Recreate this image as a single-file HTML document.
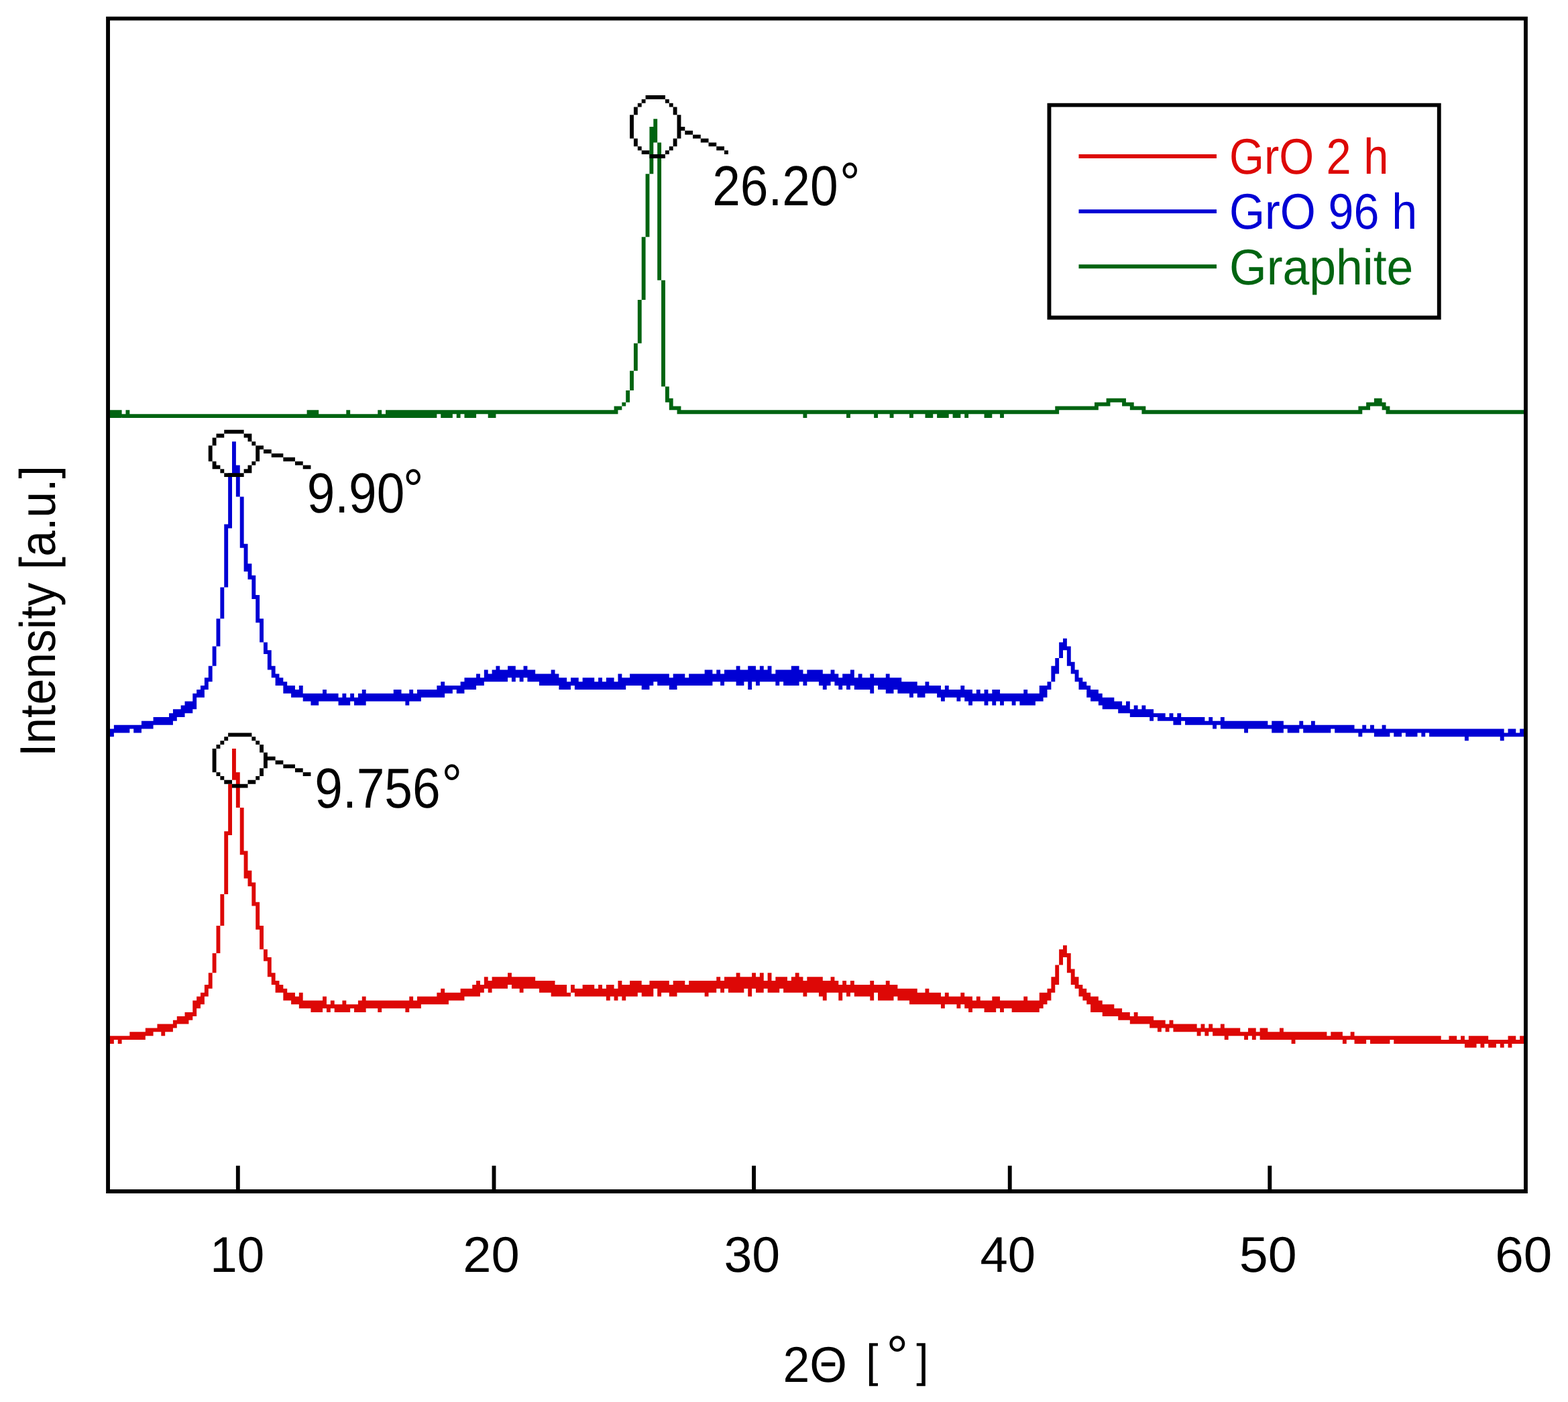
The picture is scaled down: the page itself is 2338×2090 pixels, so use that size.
<!DOCTYPE html>
<html lang="en">
<head>
<meta charset="utf-8">
<title>XRD patterns: GrO 2 h, GrO 96 h, Graphite</title>
<style>
html,body{margin:0;padding:0;background:#fff;}
body{width:2338px;height:2090px;overflow:hidden;}
svg{display:block;}
</style>
</head>
<body>
<svg width="2338" height="2090" viewBox="0 0 2338 2090" role="img" aria-label="XRD patterns of GrO 2 h, GrO 96 h and Graphite">
<g shape-rendering="geometricPrecision">
<path fill="#006411" d="M974.31 177.21H980.18V212.41H974.31ZM968.44 188.94H974.31V259.35H968.44ZM980.18 212.41H986.06V417.76H980.18ZM962.57 259.35H968.44V353.22H962.57ZM956.7 353.22H962.57V447.09H956.7ZM986.06 417.76H991.93V576.17H986.06ZM950.82 447.09H956.7V511.63H950.82ZM944.95 511.63H950.82V552.7H944.95ZM939.08 552.7H944.95V582.03H939.08ZM991.93 576.17H997.8V599.63H991.93ZM933.21 582.03H939.08V599.63H933.21ZM1655.46 593.77H1673.08V599.63H1655.46ZM1649.59 593.77H1655.46V605.5H1649.59ZM1673.08 593.77H1678.95V605.5H1673.08ZM2048.89 593.77H2060.63V605.5H2048.89ZM997.8 593.77H1003.67V611.37H997.8ZM927.34 599.63H933.21V605.5H927.34ZM1637.85 599.63H1649.59V605.5H1637.85ZM1678.95 599.63H1684.82V605.5H1678.95ZM2043.02 599.63H2048.89V605.5H2043.02ZM1631.98 599.63H1637.85V611.37H1631.98ZM1684.82 599.63H1690.7V611.37H1684.82ZM2037.14 599.63H2043.02V611.37H2037.14ZM2060.63 599.63H2066.5V611.37H2060.63ZM921.46 605.5H927.34V611.37H921.46ZM1003.67 605.5H1009.54V611.37H1003.67ZM1579.13 605.5H1631.98V611.37H1579.13ZM1690.7 605.5H1702.44V611.37H1690.7ZM2031.27 605.5H2037.14V611.37H2031.27ZM915.59 605.5H921.46V617.24H915.59ZM1009.54 605.5H1015.42V617.24H1009.54ZM1573.26 605.5H1579.13V617.24H1573.26ZM1702.44 605.5H1708.31V617.24H1702.44ZM2025.4 605.5H2031.27V617.24H2025.4ZM2066.5 605.5H2072.38V617.24H2066.5ZM651.35 611.37H657.22V617.24H651.35ZM674.84 611.37H680.71V617.24H674.84ZM686.58 611.37H692.46V617.24H686.58ZM710.07 611.37H727.69V617.24H710.07ZM739.43 611.37H915.59V617.24H739.43ZM1015.42 611.37H1197.45V617.24H1015.42ZM1203.32 611.37H1262.04V617.24H1203.32ZM1267.91 611.37H1303.14V617.24H1267.91ZM1309.02 611.37H1326.63V617.24H1309.02ZM1332.5 611.37H1355.99V617.24H1332.5ZM1361.86 611.37H1379.48V617.24H1361.86ZM1391.22 611.37H1397.1V617.24H1391.22ZM1414.71 611.37H1420.58V617.24H1414.71ZM1432.33 611.37H1438.2V617.24H1432.33ZM1444.07 611.37H1467.56V617.24H1444.07ZM1479.3 611.37H1491.05V617.24H1479.3ZM1496.92 611.37H1573.26V617.24H1496.92ZM1708.31 611.37H2025.4V617.24H1708.31ZM2072.38 611.37H2272.02V617.24H2072.38ZM163.98 611.37H181.59V623.1H163.98ZM187.46 611.37H193.34V623.1H187.46ZM457.58 611.37H475.19V623.1H457.58ZM516.3 611.37H522.17V623.1H516.3ZM563.27 611.37H569.14V623.1H563.27ZM575.02 611.37H651.35V623.1H575.02ZM657.22 611.37H674.84V623.1H657.22ZM680.71 611.37H686.58V623.1H680.71ZM692.46 611.37H710.07V623.1H692.46ZM727.69 611.37H739.43V623.1H727.69ZM1197.45 611.37H1203.32V623.1H1197.45ZM1262.04 611.37H1267.91V623.1H1262.04ZM1303.14 611.37H1309.02V623.1H1303.14ZM1326.63 611.37H1332.5V623.1H1326.63ZM1355.99 611.37H1361.86V623.1H1355.99ZM1379.48 611.37H1391.22V623.1H1379.48ZM1397.1 611.37H1414.71V623.1H1397.1ZM1420.58 611.37H1432.33V623.1H1420.58ZM1438.2 611.37H1444.07V623.1H1438.2ZM1467.56 611.37H1479.3V623.1H1467.56ZM1491.05 611.37H1496.92V623.1H1491.05ZM181.59 617.24H187.46V623.1H181.59ZM193.34 617.24H457.58V623.1H193.34ZM475.19 617.24H516.3V623.1H475.19ZM522.17 617.24H563.27V623.1H522.17ZM569.14 617.24H575.02V623.1H569.14Z"/>
<path fill="#0000D4" d="M346.01 658.3H351.88V711.11H346.01ZM351.88 693.51H357.75V740.44H351.88ZM340.14 705.24H346.01V787.38H340.14ZM357.75 740.44H363.62V816.71H357.75ZM334.26 781.51H340.14V875.38H334.26ZM363.62 810.85H369.5V851.92H363.62ZM369.5 840.18H375.37V863.65H369.5ZM375.37 857.78H381.24V892.98H375.37ZM328.39 875.38H334.26V922.32H328.39ZM381.24 887.12H387.11V928.19H381.24ZM387.11 922.32H392.98V957.52H387.11ZM322.52 922.32H328.39V963.39H322.52ZM1585 951.65H1590.87V969.25H1585ZM392.98 957.52H398.86V975.12H392.98ZM1579.13 957.52H1585V980.99H1579.13ZM316.65 963.39H322.52V992.72H316.65ZM1590.87 963.39H1596.74V992.72H1590.87ZM398.86 969.25H404.73V998.59H398.86ZM1573.26 980.99H1579.13V1004.46H1573.26ZM1596.74 986.86H1602.62V1004.46H1596.74ZM404.73 992.72H410.6V1010.32H404.73ZM757.05 992.72H762.92V1010.32H757.05ZM780.54 992.72H786.41V1010.32H780.54ZM310.78 992.72H316.65V1016.19H310.78ZM739.43 992.72H745.3V1016.19H739.43ZM762.92 992.72H768.79V1016.19H762.92ZM1121.11 992.72H1126.98V1016.19H1121.11ZM1132.86 992.72H1138.73V1016.19H1132.86ZM1144.6 992.72H1150.47V1016.19H1144.6ZM1567.38 992.72H1573.26V1016.19H1567.38ZM1097.62 992.72H1103.5V1022.06H1097.62ZM1179.83 992.72H1191.58V1022.06H1179.83ZM1115.24 992.72H1121.11V1027.92H1115.24ZM768.79 998.59H774.66V1010.32H768.79ZM721.82 998.59H727.69V1016.19H721.82ZM733.56 998.59H739.43V1016.19H733.56ZM745.3 998.59H757.05V1016.19H745.3ZM774.66 998.59H780.54V1016.19H774.66ZM786.41 998.59H798.15V1016.19H786.41ZM1068.26 998.59H1074.14V1016.19H1068.26ZM1080.01 998.59H1097.62V1016.19H1080.01ZM1109.37 998.59H1115.24V1016.19H1109.37ZM1138.73 998.59H1144.6V1016.19H1138.73ZM1162.22 998.59H1168.09V1016.19H1162.22ZM1191.58 998.59H1197.45V1016.19H1191.58ZM1203.32 998.59H1220.94V1016.19H1203.32ZM1238.55 998.59H1244.42V1016.19H1238.55ZM1602.62 998.59H1608.49V1016.19H1602.62ZM821.64 998.59H827.51V1022.06H821.64ZM1050.65 998.59H1062.39V1022.06H1050.65ZM1103.5 998.59H1109.37V1022.06H1103.5ZM1126.98 998.59H1132.86V1022.06H1126.98ZM1156.34 998.59H1162.22V1022.06H1156.34ZM1168.09 998.59H1179.83V1022.06H1168.09ZM1220.94 998.59H1226.81V1022.06H1220.94ZM1267.91 998.59H1273.78V1022.06H1267.91ZM727.69 1004.46H733.56V1016.19H727.69ZM798.15 1004.46H804.02V1016.19H798.15ZM974.31 1004.46H980.18V1016.19H974.31ZM1062.39 1004.46H1068.26V1016.19H1062.39ZM1150.47 1004.46H1156.34V1016.19H1150.47ZM410.6 1004.46H416.47V1022.06H410.6ZM710.07 1004.46H715.94V1022.06H710.07ZM804.02 1004.46H821.64V1022.06H804.02ZM827.51 1004.46H833.38V1022.06H827.51ZM939.08 1004.46H956.7V1022.06H939.08ZM968.44 1004.46H974.31V1022.06H968.44ZM980.18 1004.46H997.8V1022.06H980.18ZM1009.54 1004.46H1021.29V1022.06H1009.54ZM1027.16 1004.46H1050.65V1022.06H1027.16ZM1074.14 1004.46H1080.01V1022.06H1074.14ZM1197.45 1004.46H1203.32V1022.06H1197.45ZM1232.68 1004.46H1238.55V1022.06H1232.68ZM1244.42 1004.46H1250.3V1022.06H1244.42ZM1256.17 1004.46H1262.04V1022.06H1256.17ZM921.46 1004.46H927.34V1027.92H921.46ZM956.7 1004.46H968.44V1027.92H956.7ZM1003.67 1004.46H1009.54V1027.92H1003.67ZM1226.81 1004.46H1232.68V1027.92H1226.81ZM1262.04 1004.46H1267.91V1027.92H1262.04ZM1279.66 1004.46H1285.53V1027.92H1279.66ZM1297.27 1004.46H1303.14V1033.79H1297.27ZM1320.76 1004.46H1326.63V1033.79H1320.76ZM416.47 1010.32H422.34V1022.06H416.47ZM715.94 1010.32H721.82V1022.06H715.94ZM851 1010.32H856.87V1022.06H851ZM933.21 1010.32H939.08V1022.06H933.21ZM1021.29 1010.32H1027.16V1022.06H1021.29ZM1303.14 1010.32H1309.02V1022.06H1303.14ZM304.9 1010.32H310.78V1027.92H304.9ZM692.46 1010.32H710.07V1027.92H692.46ZM833.38 1010.32H845.13V1027.92H833.38ZM856.87 1010.32H862.74V1027.92H856.87ZM868.62 1010.32H886.23V1027.92H868.62ZM892.1 1010.32H897.98V1027.92H892.1ZM903.85 1010.32H915.59V1027.92H903.85ZM927.34 1010.32H933.21V1027.92H927.34ZM997.8 1010.32H1003.67V1027.92H997.8ZM1250.3 1010.32H1256.17V1027.92H1250.3ZM1273.78 1010.32H1279.66V1027.92H1273.78ZM1285.53 1010.32H1297.27V1027.92H1285.53ZM1309.02 1010.32H1320.76V1027.92H1309.02ZM1332.5 1010.32H1338.38V1027.92H1332.5ZM1608.49 1010.32H1614.36V1027.92H1608.49ZM1326.63 1010.32H1332.5V1033.79H1326.63ZM1338.38 1010.32H1344.25V1033.79H1338.38ZM845.13 1016.19H851V1027.92H845.13ZM862.74 1016.19H868.62V1027.92H862.74ZM886.23 1016.19H892.1V1027.92H886.23ZM897.98 1016.19H903.85V1027.92H897.98ZM915.59 1016.19H921.46V1027.92H915.59ZM1561.51 1016.19H1567.38V1027.92H1561.51ZM1614.36 1016.19H1620.23V1027.92H1614.36ZM422.34 1016.19H428.22V1033.79H422.34ZM686.58 1016.19H692.46V1033.79H686.58ZM1344.25 1016.19H1355.99V1033.79H1344.25ZM1361.86 1016.19H1367.74V1033.79H1361.86ZM1379.48 1016.19H1385.35V1033.79H1379.48ZM657.22 1016.19H663.1V1039.66H657.22ZM1355.99 1016.19H1361.86V1039.66H1355.99ZM674.84 1022.06H680.71V1027.92H674.84ZM428.22 1022.06H434.09V1033.79H428.22ZM663.1 1022.06H674.84V1033.79H663.1ZM680.71 1022.06H686.58V1033.79H680.71ZM1385.35 1022.06H1397.1V1033.79H1385.35ZM299.03 1022.06H304.9V1039.66H299.03ZM434.09 1022.06H439.96V1039.66H434.09ZM445.83 1022.06H451.7V1039.66H445.83ZM651.35 1022.06H657.22V1039.66H651.35ZM1367.74 1022.06H1379.48V1039.66H1367.74ZM1397.1 1022.06H1402.97V1039.66H1397.1ZM1408.84 1022.06H1414.71V1039.66H1408.84ZM1432.33 1022.06H1438.2V1039.66H1432.33ZM1555.64 1022.06H1561.51V1039.66H1555.64ZM1620.23 1022.06H1626.1V1039.66H1620.23ZM1549.77 1022.06H1555.64V1045.53H1549.77ZM293.16 1027.92H299.03V1039.66H293.16ZM439.96 1027.92H445.83V1039.66H439.96ZM627.86 1027.92H651.35V1039.66H627.86ZM1414.71 1027.92H1426.46V1039.66H1414.71ZM481.06 1027.92H486.94V1045.53H481.06ZM586.76 1027.92H598.5V1045.53H586.76ZM610.25 1027.92H616.12V1045.53H610.25ZM621.99 1027.92H627.86V1045.53H621.99ZM1402.97 1027.92H1408.84V1045.53H1402.97ZM1426.46 1027.92H1432.33V1045.53H1426.46ZM1438.2 1027.92H1444.07V1045.53H1438.2ZM1455.82 1027.92H1461.69V1045.53H1455.82ZM1485.18 1027.92H1491.05V1045.53H1485.18ZM1626.1 1027.92H1637.85V1045.53H1626.1ZM539.78 1027.92H545.66V1051.39H539.78ZM1444.07 1027.92H1449.94V1051.39H1444.07ZM1467.56 1027.92H1473.43V1051.39H1467.56ZM1479.3 1027.92H1485.18V1051.39H1479.3ZM1526.28 1027.92H1532.15V1051.39H1526.28ZM451.7 1033.79H463.45V1045.53H451.7ZM475.19 1033.79H481.06V1045.53H475.19ZM486.94 1033.79H504.55V1045.53H486.94ZM522.17 1033.79H528.04V1045.53H522.17ZM545.66 1033.79H586.76V1045.53H545.66ZM598.5 1033.79H604.38V1045.53H598.5ZM616.12 1033.79H621.99V1045.53H616.12ZM1449.94 1033.79H1455.82V1045.53H1449.94ZM1461.69 1033.79H1467.56V1045.53H1461.69ZM1473.43 1033.79H1479.3V1045.53H1473.43ZM1496.92 1033.79H1508.66V1045.53H1496.92ZM1514.54 1033.79H1520.41V1045.53H1514.54ZM1543.9 1033.79H1549.77V1045.53H1543.9ZM463.45 1033.79H475.19V1051.39H463.45ZM510.42 1033.79H516.3V1051.39H510.42ZM533.91 1033.79H539.78V1051.39H533.91ZM604.38 1033.79H610.25V1051.39H604.38ZM1491.05 1033.79H1496.92V1051.39H1491.05ZM1508.66 1033.79H1514.54V1051.39H1508.66ZM1520.41 1033.79H1526.28V1051.39H1520.41ZM1532.15 1033.79H1543.9V1051.39H1532.15ZM1637.85 1033.79H1643.72V1051.39H1637.85ZM287.29 1033.79H293.16V1057.26H287.29ZM504.55 1039.66H510.42V1051.39H504.55ZM516.3 1039.66H522.17V1051.39H516.3ZM528.04 1039.66H533.91V1051.39H528.04ZM1643.72 1039.66H1661.34V1057.26H1643.72ZM1661.34 1045.53H1667.21V1057.26H1661.34ZM275.54 1045.53H287.29V1063.13H275.54ZM1667.21 1045.53H1673.08V1063.13H1667.21ZM1678.95 1045.53H1684.82V1063.13H1678.95ZM1673.08 1051.39H1678.95V1063.13H1673.08ZM269.67 1051.39H275.54V1068.99H269.67ZM1690.7 1051.39H1696.57V1068.99H1690.7ZM1702.44 1051.39H1708.31V1068.99H1702.44ZM263.8 1057.26H269.67V1068.99H263.8ZM1684.82 1057.26H1690.7V1068.99H1684.82ZM1696.57 1057.26H1702.44V1068.99H1696.57ZM1708.31 1057.26H1714.18V1068.99H1708.31ZM257.93 1057.26H263.8V1074.86H257.93ZM1714.18 1057.26H1720.06V1074.86H1714.18ZM1720.06 1063.13H1725.93V1068.99H1720.06ZM1725.93 1063.13H1737.67V1074.86H1725.93ZM1743.54 1063.13H1749.42V1074.86H1743.54ZM252.06 1063.13H257.93V1080.73H252.06ZM1755.29 1063.13H1761.16V1080.73H1755.29ZM1737.67 1068.99H1743.54V1074.86H1737.67ZM1761.16 1068.99H1767.03V1074.86H1761.16ZM228.57 1068.99H252.06V1080.73H228.57ZM1749.42 1068.99H1755.29V1080.73H1749.42ZM1767.03 1068.99H1796.39V1080.73H1767.03ZM1802.26 1068.99H1808.14V1080.73H1802.26ZM1819.88 1068.99H1825.75V1086.6H1819.88ZM1796.39 1074.86H1802.26V1080.73H1796.39ZM1814.01 1074.86H1819.88V1080.73H1814.01ZM210.95 1074.86H228.57V1086.6H210.95ZM1808.14 1074.86H1814.01V1086.6H1808.14ZM1825.75 1074.86H1855.11V1086.6H1825.75ZM1860.98 1074.86H1890.34V1086.6H1860.98ZM1937.32 1074.86H1943.19V1086.6H1937.32ZM1855.11 1074.86H1860.98V1092.46H1855.11ZM1896.22 1074.86H1913.83V1092.46H1896.22ZM1954.94 1074.86H1960.81V1092.46H1954.94ZM193.34 1080.73H199.21V1086.6H193.34ZM1890.34 1080.73H1896.22V1086.6H1890.34ZM1913.83 1080.73H1919.7V1086.6H1913.83ZM1984.3 1080.73H1990.17V1086.6H1984.3ZM169.85 1080.73H193.34V1092.46H169.85ZM199.21 1080.73H210.95V1092.46H199.21ZM1919.7 1080.73H1937.32V1092.46H1919.7ZM1943.19 1080.73H1954.94V1092.46H1943.19ZM1960.81 1080.73H1984.3V1092.46H1960.81ZM1990.17 1080.73H2019.53V1092.46H1990.17ZM2031.27 1080.73H2037.14V1092.46H2031.27ZM2043.02 1080.73H2048.89V1092.46H2043.02ZM2060.63 1080.73H2066.5V1098.33H2060.63ZM2019.53 1086.6H2025.4V1092.46H2019.53ZM2037.14 1086.6H2043.02V1092.46H2037.14ZM2072.38 1086.6H2078.25V1092.46H2072.38ZM2089.99 1086.6H2095.86V1092.46H2089.99ZM2113.48 1086.6H2119.35V1092.46H2113.48ZM2125.22 1086.6H2131.1V1092.46H2125.22ZM163.98 1086.6H169.85V1098.33H163.98ZM2025.4 1086.6H2031.27V1098.33H2025.4ZM2048.89 1086.6H2060.63V1098.33H2048.89ZM2066.5 1086.6H2072.38V1098.33H2066.5ZM2078.25 1086.6H2089.99V1098.33H2078.25ZM2095.86 1086.6H2113.48V1098.33H2095.86ZM2119.35 1086.6H2125.22V1098.33H2119.35ZM2131.1 1086.6H2183.94V1098.33H2131.1ZM2189.82 1086.6H2236.79V1098.33H2189.82ZM2248.54 1086.6H2260.28V1098.33H2248.54ZM2266.15 1086.6H2272.02V1098.33H2266.15ZM2183.94 1086.6H2189.82V1104.2H2183.94ZM2236.79 1086.6H2242.66V1104.2H2236.79ZM2242.66 1092.46H2248.54V1098.33H2242.66ZM2260.28 1092.46H2266.15V1098.33H2260.28Z"/>
<path fill="#DD0806" d="M346.01 1115.93H351.88V1162.87H346.01ZM351.88 1151.13H357.75V1203.93H351.88ZM340.14 1168.73H346.01V1245H340.14ZM357.75 1203.93H363.62V1274.34H357.75ZM334.26 1239.14H340.14V1333.01H334.26ZM363.62 1268.47H369.5V1309.54H363.62ZM369.5 1297.81H375.37V1321.28H369.5ZM375.37 1315.41H381.24V1350.61H375.37ZM328.39 1333.01H334.26V1379.94H328.39ZM381.24 1344.74H387.11V1385.81H381.24ZM387.11 1379.94H392.98V1415.15H387.11ZM322.52 1379.94H328.39V1421.01H322.52ZM1585 1409.28H1590.87V1426.88H1585ZM392.98 1415.15H398.86V1432.75H392.98ZM1579.13 1415.15H1585V1438.62H1579.13ZM316.65 1421.01H322.52V1450.35H316.65ZM1590.87 1421.01H1596.74V1450.35H1590.87ZM398.86 1426.88H404.73V1456.22H398.86ZM1573.26 1438.62H1579.13V1467.95H1573.26ZM1596.74 1444.48H1602.62V1467.95H1596.74ZM404.73 1450.35H410.6V1467.95H404.73ZM757.05 1450.35H762.92V1467.95H757.05ZM310.78 1450.35H316.65V1473.82H310.78ZM1121.11 1450.35H1126.98V1473.82H1121.11ZM1097.62 1450.35H1103.5V1479.68H1097.62ZM1132.86 1450.35H1138.73V1479.68H1132.86ZM1144.6 1450.35H1150.47V1479.68H1144.6ZM1185.7 1450.35H1191.58V1479.68H1185.7ZM721.82 1456.22H727.69V1473.82H721.82ZM733.56 1456.22H757.05V1473.82H733.56ZM762.92 1456.22H774.66V1473.82H762.92ZM780.54 1456.22H798.15V1473.82H780.54ZM1068.26 1456.22H1074.14V1473.82H1068.26ZM1080.01 1456.22H1085.88V1473.82H1080.01ZM1109.37 1456.22H1115.24V1473.82H1109.37ZM1162.22 1456.22H1168.09V1473.82H1162.22ZM1602.62 1456.22H1608.49V1473.82H1602.62ZM774.66 1456.22H780.54V1479.68H774.66ZM1085.88 1456.22H1097.62V1479.68H1085.88ZM1103.5 1456.22H1109.37V1479.68H1103.5ZM1126.98 1456.22H1132.86V1479.68H1126.98ZM1156.34 1456.22H1162.22V1479.68H1156.34ZM1168.09 1456.22H1173.96V1479.68H1168.09ZM1179.83 1456.22H1185.7V1479.68H1179.83ZM1191.58 1456.22H1197.45V1479.68H1191.58ZM1203.32 1456.22H1220.94V1479.68H1203.32ZM1238.55 1456.22H1244.42V1479.68H1238.55ZM1567.38 1456.22H1573.26V1479.68H1567.38ZM1115.24 1456.22H1121.11V1485.55H1115.24ZM1220.94 1456.22H1226.81V1485.55H1220.94ZM798.15 1462.08H804.02V1473.82H798.15ZM974.31 1462.08H980.18V1473.82H974.31ZM1138.73 1462.08H1144.6V1473.82H1138.73ZM410.6 1462.08H416.47V1479.68H410.6ZM727.69 1462.08H733.56V1479.68H727.69ZM804.02 1462.08H821.64V1479.68H804.02ZM950.82 1462.08H956.7V1479.68H950.82ZM986.06 1462.08H997.8V1479.68H986.06ZM1009.54 1462.08H1021.29V1479.68H1009.54ZM1027.16 1462.08H1050.65V1479.68H1027.16ZM1056.52 1462.08H1068.26V1479.68H1056.52ZM1074.14 1462.08H1080.01V1479.68H1074.14ZM1150.47 1462.08H1156.34V1479.68H1150.47ZM1173.96 1462.08H1179.83V1479.68H1173.96ZM1232.68 1462.08H1238.55V1479.68H1232.68ZM1244.42 1462.08H1250.3V1479.68H1244.42ZM1256.17 1462.08H1262.04V1479.68H1256.17ZM1267.91 1462.08H1273.78V1479.68H1267.91ZM710.07 1462.08H715.94V1485.55H710.07ZM821.64 1462.08H827.51V1485.55H821.64ZM921.46 1462.08H927.34V1485.55H921.46ZM939.08 1462.08H950.82V1485.55H939.08ZM968.44 1462.08H974.31V1485.55H968.44ZM980.18 1462.08H986.06V1485.55H980.18ZM1003.67 1462.08H1009.54V1485.55H1003.67ZM1050.65 1462.08H1056.52V1485.55H1050.65ZM1197.45 1462.08H1203.32V1485.55H1197.45ZM1226.81 1462.08H1232.68V1491.42H1226.81ZM1297.27 1462.08H1303.14V1491.42H1297.27ZM1320.76 1462.08H1326.63V1491.42H1320.76ZM416.47 1467.95H422.34V1479.68H416.47ZM715.94 1467.95H721.82V1479.68H715.94ZM851 1467.95H856.87V1479.68H851ZM1021.29 1467.95H1027.16V1479.68H1021.29ZM1303.14 1467.95H1309.02V1479.68H1303.14ZM304.9 1467.95H310.78V1485.55H304.9ZM704.2 1467.95H710.07V1485.55H704.2ZM827.51 1467.95H845.13V1485.55H827.51ZM868.62 1467.95H886.23V1485.55H868.62ZM892.1 1467.95H897.98V1485.55H892.1ZM909.72 1467.95H915.59V1485.55H909.72ZM933.21 1467.95H939.08V1485.55H933.21ZM956.7 1467.95H968.44V1485.55H956.7ZM997.8 1467.95H1003.67V1485.55H997.8ZM1262.04 1467.95H1267.91V1485.55H1262.04ZM1273.78 1467.95H1297.27V1485.55H1273.78ZM1332.5 1467.95H1338.38V1485.55H1332.5ZM1608.49 1467.95H1614.36V1485.55H1608.49ZM903.85 1467.95H909.72V1491.42H903.85ZM927.34 1467.95H933.21V1491.42H927.34ZM1250.3 1467.95H1256.17V1491.42H1250.3ZM1309.02 1467.95H1320.76V1491.42H1309.02ZM1326.63 1467.95H1332.5V1491.42H1326.63ZM692.46 1473.82H704.2V1485.55H692.46ZM856.87 1473.82H868.62V1485.55H856.87ZM886.23 1473.82H892.1V1485.55H886.23ZM897.98 1473.82H903.85V1485.55H897.98ZM422.34 1473.82H428.22V1491.42H422.34ZM686.58 1473.82H692.46V1491.42H686.58ZM915.59 1473.82H921.46V1491.42H915.59ZM1338.38 1473.82H1355.99V1491.42H1338.38ZM1561.51 1473.82H1567.38V1491.42H1561.51ZM1614.36 1473.82H1620.23V1491.42H1614.36ZM657.22 1473.82H663.1V1497.29H657.22ZM1355.99 1473.82H1367.74V1497.29H1355.99ZM1379.48 1473.82H1385.35V1497.29H1379.48ZM845.13 1479.68H851V1485.55H845.13ZM428.22 1479.68H434.09V1491.42H428.22ZM668.97 1479.68H686.58V1491.42H668.97ZM299.03 1479.68H304.9V1497.29H299.03ZM434.09 1479.68H439.96V1497.29H434.09ZM651.35 1479.68H657.22V1497.29H651.35ZM663.1 1479.68H668.97V1497.29H663.1ZM1367.74 1479.68H1379.48V1497.29H1367.74ZM1385.35 1479.68H1402.97V1497.29H1385.35ZM1408.84 1479.68H1414.71V1497.29H1408.84ZM1432.33 1479.68H1438.2V1497.29H1432.33ZM1555.64 1479.68H1561.51V1497.29H1555.64ZM1620.23 1479.68H1626.1V1497.29H1620.23ZM445.83 1479.68H451.7V1503.15H445.83ZM1549.77 1479.68H1555.64V1503.15H1549.77ZM439.96 1485.55H445.83V1497.29H439.96ZM627.86 1485.55H651.35V1497.29H627.86ZM1414.71 1485.55H1426.46V1497.29H1414.71ZM293.16 1485.55H299.03V1503.15H293.16ZM481.06 1485.55H486.94V1503.15H481.06ZM610.25 1485.55H616.12V1503.15H610.25ZM621.99 1485.55H627.86V1503.15H621.99ZM1402.97 1485.55H1408.84V1503.15H1402.97ZM1426.46 1485.55H1432.33V1503.15H1426.46ZM1438.2 1485.55H1444.07V1503.15H1438.2ZM1455.82 1485.55H1461.69V1503.15H1455.82ZM1485.18 1485.55H1491.05V1503.15H1485.18ZM539.78 1485.55H545.66V1509.02H539.78ZM1444.07 1485.55H1449.94V1509.02H1444.07ZM1479.3 1485.55H1485.18V1509.02H1479.3ZM1526.28 1485.55H1532.15V1509.02H1526.28ZM1626.1 1485.55H1637.85V1509.02H1626.1ZM451.7 1491.42H463.45V1503.15H451.7ZM492.81 1491.42H498.68V1503.15H492.81ZM545.66 1491.42H563.27V1503.15H545.66ZM569.14 1491.42H604.38V1503.15H569.14ZM616.12 1491.42H621.99V1503.15H616.12ZM1449.94 1491.42H1455.82V1503.15H1449.94ZM1461.69 1491.42H1467.56V1503.15H1461.69ZM1496.92 1491.42H1508.66V1503.15H1496.92ZM463.45 1491.42H481.06V1509.02H463.45ZM510.42 1491.42H516.3V1509.02H510.42ZM533.91 1491.42H539.78V1509.02H533.91ZM563.27 1491.42H569.14V1509.02H563.27ZM604.38 1491.42H610.25V1509.02H604.38ZM1467.56 1491.42H1479.3V1509.02H1467.56ZM1491.05 1491.42H1496.92V1509.02H1491.05ZM1508.66 1491.42H1526.28V1509.02H1508.66ZM1532.15 1491.42H1549.77V1509.02H1532.15ZM1637.85 1491.42H1643.72V1509.02H1637.85ZM287.29 1491.42H293.16V1514.89H287.29ZM522.17 1497.29H528.04V1503.15H522.17ZM486.94 1497.29H492.81V1509.02H486.94ZM498.68 1497.29H510.42V1509.02H498.68ZM516.3 1497.29H522.17V1509.02H516.3ZM528.04 1497.29H533.91V1509.02H528.04ZM1643.72 1497.29H1661.34V1514.89H1643.72ZM1661.34 1503.15H1667.21V1514.89H1661.34ZM1667.21 1503.15H1673.08V1520.75H1667.21ZM281.42 1509.02H287.29V1520.75H281.42ZM1673.08 1509.02H1684.82V1520.75H1673.08ZM275.54 1509.02H281.42V1526.62H275.54ZM1690.7 1509.02H1696.57V1526.62H1690.7ZM263.8 1514.89H275.54V1526.62H263.8ZM1684.82 1514.89H1690.7V1526.62H1684.82ZM1696.57 1514.89H1714.18V1526.62H1696.57ZM1714.18 1514.89H1720.06V1532.49H1714.18ZM257.93 1520.75H263.8V1532.49H257.93ZM1720.06 1520.75H1725.93V1532.49H1720.06ZM1731.8 1520.75H1737.67V1532.49H1731.8ZM1743.54 1520.75H1749.42V1532.49H1743.54ZM1725.93 1520.75H1731.8V1538.35H1725.93ZM234.44 1526.62H240.31V1538.35H234.44ZM246.18 1526.62H257.93V1538.35H246.18ZM1737.67 1526.62H1743.54V1538.35H1737.67ZM1749.42 1526.62H1784.65V1538.35H1749.42ZM1790.52 1526.62H1796.39V1538.35H1790.52ZM1802.26 1526.62H1808.14V1538.35H1802.26ZM240.31 1526.62H246.18V1544.22H240.31ZM1819.88 1526.62H1825.75V1544.22H1819.88ZM228.57 1532.49H234.44V1538.35H228.57ZM216.82 1532.49H228.57V1544.22H216.82ZM1784.65 1532.49H1790.52V1544.22H1784.65ZM1796.39 1532.49H1802.26V1544.22H1796.39ZM1808.14 1532.49H1819.88V1544.22H1808.14ZM1831.62 1532.49H1849.24V1544.22H1831.62ZM1860.98 1532.49H1866.86V1544.22H1860.98ZM1825.75 1532.49H1831.62V1550.09H1825.75ZM1866.86 1532.49H1872.73V1550.09H1866.86ZM1878.6 1532.49H1890.34V1550.09H1878.6ZM1907.96 1532.49H1913.83V1550.09H1907.96ZM1849.24 1538.35H1855.11V1544.22H1849.24ZM1872.73 1538.35H1878.6V1544.22H1872.73ZM193.34 1538.35H216.82V1550.09H193.34ZM1855.11 1538.35H1860.98V1550.09H1855.11ZM1890.34 1538.35H1907.96V1550.09H1890.34ZM1913.83 1538.35H1925.58V1550.09H1913.83ZM1931.45 1538.35H1978.42V1550.09H1931.45ZM1984.3 1538.35H2001.91V1550.09H1984.3ZM2013.66 1538.35H2019.53V1550.09H2013.66ZM1925.58 1538.35H1931.45V1555.96H1925.58ZM169.85 1544.22H175.72V1550.09H169.85ZM181.59 1544.22H193.34V1550.09H181.59ZM1978.42 1544.22H1984.3V1550.09H1978.42ZM2007.78 1544.22H2013.66V1550.09H2007.78ZM2037.14 1544.22H2043.02V1550.09H2037.14ZM2072.38 1544.22H2078.25V1550.09H2072.38ZM163.98 1544.22H169.85V1555.96H163.98ZM175.72 1544.22H181.59V1555.96H175.72ZM2001.91 1544.22H2007.78V1555.96H2001.91ZM2019.53 1544.22H2037.14V1555.96H2019.53ZM2043.02 1544.22H2072.38V1555.96H2043.02ZM2078.25 1544.22H2148.71V1555.96H2078.25ZM2160.46 1544.22H2172.2V1555.96H2160.46ZM2178.07 1544.22H2183.94V1555.96H2178.07ZM2201.56 1544.22H2207.43V1555.96H2201.56ZM2213.3 1544.22H2219.18V1555.96H2213.3ZM2254.41 1544.22H2260.28V1555.96H2254.41ZM2266.15 1544.22H2272.02V1555.96H2266.15ZM2189.82 1544.22H2201.56V1561.82H2189.82ZM2207.43 1544.22H2213.3V1561.82H2207.43ZM2248.54 1544.22H2254.41V1561.82H2248.54ZM2148.71 1550.09H2160.46V1555.96H2148.71ZM2172.2 1550.09H2178.07V1555.96H2172.2ZM2230.92 1550.09H2236.79V1555.96H2230.92ZM2242.66 1550.09H2248.54V1555.96H2242.66ZM2260.28 1550.09H2266.15V1555.96H2260.28ZM2183.94 1550.09H2189.82V1561.82H2183.94ZM2219.18 1550.09H2230.92V1561.82H2219.18ZM2236.79 1550.09H2242.66V1561.82H2236.79Z"/>
<path fill="#DD0806" d="M1608.49 230.01H1814.01V235.88H1608.49Z"/>
<path fill="#0000D4" d="M1608.49 312.15H1814.01V318.02H1608.49Z"/>
<path fill="#006411" d="M1608.49 394.29H1814.01V400.16H1608.49Z"/>
<path fill="#000" d="M158.1 24.67H2277.9V30.54H158.1ZM158.1 1773.03H2277.9V1778.9H158.1ZM158.1 24.67H163.98V1778.9H158.1ZM2272.02 24.67H2277.9V1778.9H2272.02ZM351.88 1737.83H357.75V1773.03H351.88ZM733.56 1737.83H739.43V1773.03H733.56ZM1121.11 1737.83H1126.98V1773.03H1121.11ZM1502.79 1737.83H1508.66V1773.03H1502.79ZM1890.34 1737.83H1896.22V1773.03H1890.34ZM1561.51 153.74H2148.71V159.61H1561.51ZM1561.51 470.56H2148.71V476.43H1561.51ZM1561.51 153.74H1567.38V476.43H1561.51ZM2142.84 153.74H2148.71V476.43H2142.84Z"/>
<path fill="#000" d="M962.57 142.01H991.93V147.88H962.57ZM956.7 147.88H962.57V153.74H956.7ZM991.93 147.88H997.8V153.74H991.93ZM950.82 153.74H956.7V159.61H950.82ZM997.8 153.74H1003.67V159.61H997.8ZM944.95 159.61H950.82V165.48H944.95ZM1003.67 159.61H1009.54V165.48H1003.67ZM944.95 165.48H950.82V171.34H944.95ZM1003.67 165.48H1009.54V171.34H1003.67ZM939.08 171.34H944.95V177.21H939.08ZM1009.54 171.34H1015.42V177.21H1009.54ZM939.08 177.21H944.95V183.08H939.08ZM1009.54 177.21H1015.42V183.08H1009.54ZM939.08 183.08H944.95V188.94H939.08ZM1009.54 183.08H1015.42V188.94H1009.54ZM939.08 188.94H944.95V194.81H939.08ZM1009.54 188.94H1021.29V194.81H1009.54ZM939.08 194.81H944.95V200.68H939.08ZM1009.54 194.81H1015.42V200.68H1009.54ZM1021.29 194.81H1033.03V200.68H1021.29ZM939.08 200.68H944.95V206.54H939.08ZM1009.54 200.68H1015.42V206.54H1009.54ZM1033.03 200.68H1044.78V206.54H1033.03ZM944.95 206.54H950.82V212.41H944.95ZM1003.67 206.54H1009.54V212.41H1003.67ZM1044.78 206.54H1056.52V212.41H1044.78ZM944.95 212.41H950.82V218.28H944.95ZM1003.67 212.41H1009.54V218.28H1003.67ZM1056.52 212.41H1068.26V218.28H1056.52ZM950.82 218.28H956.7V224.15H950.82ZM997.8 218.28H1003.67V224.15H997.8ZM1068.26 218.28H1080.01V224.15H1068.26ZM956.7 224.15H968.44V230.01H956.7ZM991.93 224.15H997.8V230.01H991.93ZM1080.01 224.15H1085.88V230.01H1080.01ZM968.44 230.01H991.93V235.88H968.44ZM334.26 640.7H363.62V646.57H334.26ZM322.52 646.57H334.26V652.44H322.52ZM363.62 646.57H375.37V652.44H363.62ZM316.65 652.44H322.52V658.3H316.65ZM369.5 652.44H375.37V658.3H369.5ZM316.65 658.3H322.52V664.17H316.65ZM375.37 658.3H381.24V664.17H375.37ZM310.78 664.17H316.65V670.04H310.78ZM381.24 664.17H392.98V670.04H381.24ZM310.78 670.04H316.65V675.91H310.78ZM381.24 670.04H387.11V675.91H381.24ZM392.98 670.04H404.73V675.91H392.98ZM310.78 675.91H316.65V681.77H310.78ZM381.24 675.91H387.11V681.77H381.24ZM404.73 675.91H422.34V681.77H404.73ZM310.78 681.77H316.65V687.64H310.78ZM381.24 681.77H387.11V687.64H381.24ZM422.34 681.77H439.96V687.64H422.34ZM316.65 687.64H322.52V693.51H316.65ZM375.37 687.64H381.24V693.51H375.37ZM439.96 687.64H451.7V693.51H439.96ZM316.65 693.51H328.39V699.37H316.65ZM369.5 693.51H375.37V699.37H369.5ZM451.7 693.51H463.45V699.37H451.7ZM328.39 699.37H334.26V705.24H328.39ZM363.62 699.37H375.37V705.24H363.62ZM334.26 705.24H363.62V711.11H334.26ZM340.14 1092.46H375.37V1098.33H340.14ZM334.26 1098.33H340.14V1104.2H334.26ZM375.37 1098.33H381.24V1104.2H375.37ZM328.39 1104.2H334.26V1110.06H328.39ZM381.24 1104.2H387.11V1110.06H381.24ZM322.52 1110.06H328.39V1115.93H322.52ZM387.11 1110.06H392.98V1115.93H387.11ZM316.65 1115.93H322.52V1121.8H316.65ZM387.11 1115.93H392.98V1121.8H387.11ZM316.65 1121.8H322.52V1127.66H316.65ZM392.98 1121.8H398.86V1127.66H392.98ZM316.65 1127.66H322.52V1133.53H316.65ZM392.98 1127.66H410.6V1133.53H392.98ZM316.65 1133.53H322.52V1139.4H316.65ZM392.98 1133.53H398.86V1139.4H392.98ZM410.6 1133.53H422.34V1139.4H410.6ZM316.65 1139.4H322.52V1145.27H316.65ZM392.98 1139.4H398.86V1145.27H392.98ZM422.34 1139.4H439.96V1145.27H422.34ZM316.65 1145.27H322.52V1151.13H316.65ZM387.11 1145.27H392.98V1151.13H387.11ZM439.96 1145.27H451.7V1151.13H439.96ZM322.52 1151.13H328.39V1157H322.52ZM387.11 1151.13H392.98V1157H387.11ZM451.7 1151.13H463.45V1157H451.7ZM328.39 1157H334.26V1162.87H328.39ZM381.24 1157H387.11V1162.87H381.24ZM334.26 1162.87H346.01V1168.73H334.26ZM369.5 1162.87H381.24V1168.73H369.5ZM346.01 1168.73H369.5V1174.6H346.01Z"/>
</g>
<g font-family="'Liberation Sans', Arial, Helvetica, sans-serif" text-rendering="geometricPrecision">
<text transform="scale(0.8916 1)" fill="#000" xml:space="preserve"><tspan x="1191.37" y="306.28" font-size="84.00">26.20</tspan><tspan x="1404.09" y="302.00" font-size="85.71">°</tspan></text>
<text transform="scale(0.8897 1)" fill="#000" xml:space="preserve"><tspan x="514.54" y="763.91" font-size="84.00">9.90</tspan><tspan x="675.46" y="758.87" font-size="85.71">°</tspan></text>
<text transform="scale(0.8916 1)" fill="#000" xml:space="preserve"><tspan x="526.29" y="1203.93" font-size="84.00">9.756</tspan><tspan x="738.45" y="1198.90" font-size="85.71">°</tspan></text>
<text transform="scale(0.9697 1)" fill="#000" xml:space="preserve"><tspan x="322.97" y="1895.84" font-size="75.00">10</tspan></text>
<text transform="scale(1.0131 1)" fill="#000" xml:space="preserve"><tspan x="681.30" y="1895.84" font-size="75.00">20</tspan></text>
<text transform="scale(1.0032 1)" fill="#000" xml:space="preserve"><tspan x="1076.01" y="1895.84" font-size="75.00">30</tspan></text>
<text transform="scale(0.9905 1)" fill="#000" xml:space="preserve"><tspan x="1475.57" y="1895.84" font-size="75.00">40</tspan></text>
<text transform="scale(1.0291 1)" fill="#000" xml:space="preserve"><tspan x="1795.61" y="1895.84" font-size="75.00">50</tspan></text>
<text transform="scale(1.0196 1)" fill="#000" xml:space="preserve"><tspan x="2186.31" y="1895.84" font-size="75.00">60</tspan></text>
<text transform="scale(0.8895 1)" fill="#DD0806" xml:space="preserve"><tspan x="2060.81" y="259.35" font-size="75.00">GrO 2 h</tspan></text>
<text transform="scale(0.9083 1)" fill="#0000D4" xml:space="preserve"><tspan x="2018.08" y="341.49" font-size="75.00">GrO 96 h</tspan></text>
<text transform="scale(0.9537 1)" fill="#006411" xml:space="preserve"><tspan x="1922.00" y="423.62" font-size="75.00">Graphite</tspan></text>
<text transform="scale(0.9539 1)" fill="#000" xml:space="preserve"><tspan x="1223.80" y="2059.82" font-size="75.00">2Θ </tspan><tspan x="1353.77" y="2052.45" font-size="68.83">[ </tspan><tspan x="1385.42" y="2050.50" font-size="85.71">° </tspan><tspan x="1432.33" y="2052.45" font-size="68.83">]</tspan></text>
<text transform="translate(81.7 1128.07) rotate(-90) scale(0.9292 1)" font-size="75" fill="#000">Intensity [a.u.]</text>
</g>
</svg>
</body>
</html>
